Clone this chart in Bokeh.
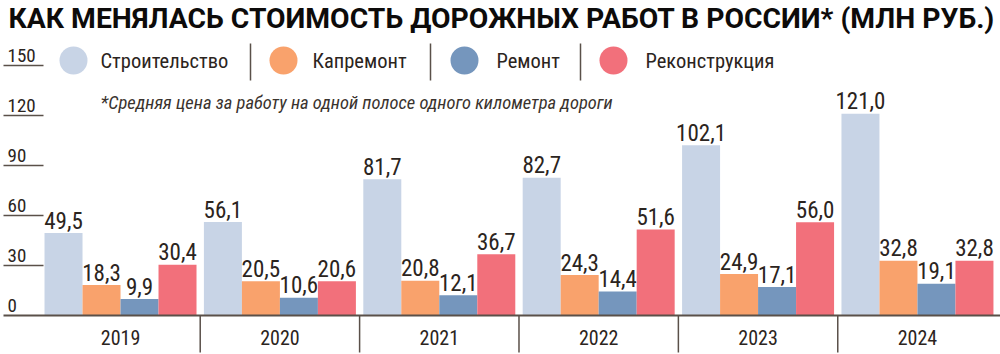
from bokeh.plotting import figure
from bokeh.models import Range1d
from bokeh.embed import file_html
from bokeh.resources import INLINE
from bokeh.core.properties import value

# ---- data ----
years = ["2019", "2020", "2021", "2022", "2023", "2024"]
series = ["Строительство", "Капремонт", "Ремонт", "Реконструкция"]
stroit = [49.5, 56.1, 81.7, 82.7, 102.1, 121.0]
kaprem = [18.3, 20.5, 20.8, 24.3, 24.9, 32.8]
remont = [9.9, 10.6, 12.1, 14.4, 17.1, 19.1]
rekon = [30.4, 20.6, 36.7, 51.6, 56.0, 32.8]
yticks = [0, 30, 60, 90, 120, 150]
title = "КАК МЕНЯЛАСЬ СТОИМОСТЬ ДОРОЖНЫХ РАБОТ В РОССИИ* (МЛН РУБ.)"
footnote = "*Средняя цена за работу на одной полосе одного километра дороги"

colors = ["#c8d4e6", "#f9a26c", "#7596bd", "#f2707b"]
ink = "#2b2420"
rule = "#5a5049"
FONT = value("Roboto Condensed, Roboto")

W, H = 1000, 354
X0, X1 = -0.753, 5.521
Y0, Y1 = -23.4, 189.0


def X(px):
    return X0 + px * (X1 - X0) / W


def Y(py):
    return Y1 - py * (Y1 - Y0) / H


p = figure(width=W, height=H, x_range=Range1d(X0, X1), y_range=Range1d(Y0, Y1),
           output_backend="svg", toolbar_location=None,
           x_axis_type=None, y_axis_type=None, min_border=0)
p.grid.visible = False
p.outline_line_color = None
p.background_fill_color = "white"
p.border_fill_color = "white"

bw = 0.2384
all_series = [stroit, kaprem, remont, rekon]
for k, vals in enumerate(all_series):
    xs = [i + (k - 1.5) * bw for i in range(len(years))]
    p.vbar(x=xs, top=vals, bottom=0, width=bw, fill_color=colors[k], line_color=None)
    p.text(x=xs, y=vals, text=[f"{v:.1f}".replace(".", ",") for v in vals],
           text_align="center", text_baseline="middle", y_offset=-13,
           text_font=FONT, text_font_size="23px", text_color=ink)

# y tick marks (short rules) and labels
for t in yticks[1:]:
    p.segment(x0=[X(3)], y0=[t], x1=[X(43)], y1=[t], line_color=rule, line_width=1.5)
p.text(x=[X(7)] * len(yticks), y=yticks, text=[str(t) for t in yticks],
       text_align="left", text_baseline="middle", y_offset=-10,
       text_font=FONT, text_font_size="19px", text_color=ink)

# baseline
p.segment(x0=[X(3)], y0=[0], x1=[X1], y1=[0], line_color=rule, line_width=2)
# group separators
seps = [i + 0.5 for i in range(len(years) - 1)]
p.segment(x0=seps, y0=[0] * len(seps), x1=seps, y1=[Y(352)] * len(seps),
          line_color=rule, line_width=1.5)
# year labels
p.text(x=list(range(len(years))), y=[Y(337)] * len(years), text=years,
       text_align="center", text_baseline="middle",
       text_font=FONT, text_font_size="20px", text_color=ink)

# title
p.text(x=[X(8)], y=[Y(18)], text=[title], text_align="left", text_baseline="middle",
       text_font=value("Roboto"), text_font_style="bold", text_font_size="28.3px",
       text_color="#0d0b0a")

# legend
leg_cx = [73, 283, 464, 613]
leg_tx = [100, 312, 496, 645]
for k in range(4):
    p.scatter(x=[X(leg_cx[k])], y=[Y(60)], size=28, marker="circle",
              fill_color=colors[k], line_color=None)
    p.text(x=[X(leg_tx[k])], y=[Y(60)], text=[series[k]], text_align="left",
           text_baseline="middle", text_font=FONT, text_font_size="20.5px",
           text_color=ink)
for sx in [250, 430, 580]:
    p.segment(x0=[X(sx)], y0=[Y(43)], x1=[X(sx)], y1=[Y(80)], line_color=rule,
              line_width=1.5)

# footnote
p.text(x=[X(100)], y=[Y(102)], text=[footnote], text_align="left",
       text_baseline="middle", text_font=FONT, text_font_style="italic",
       text_font_size="18.5px", text_color="#3a332e")

open("out.html", "w").write(file_html(p, INLINE))
